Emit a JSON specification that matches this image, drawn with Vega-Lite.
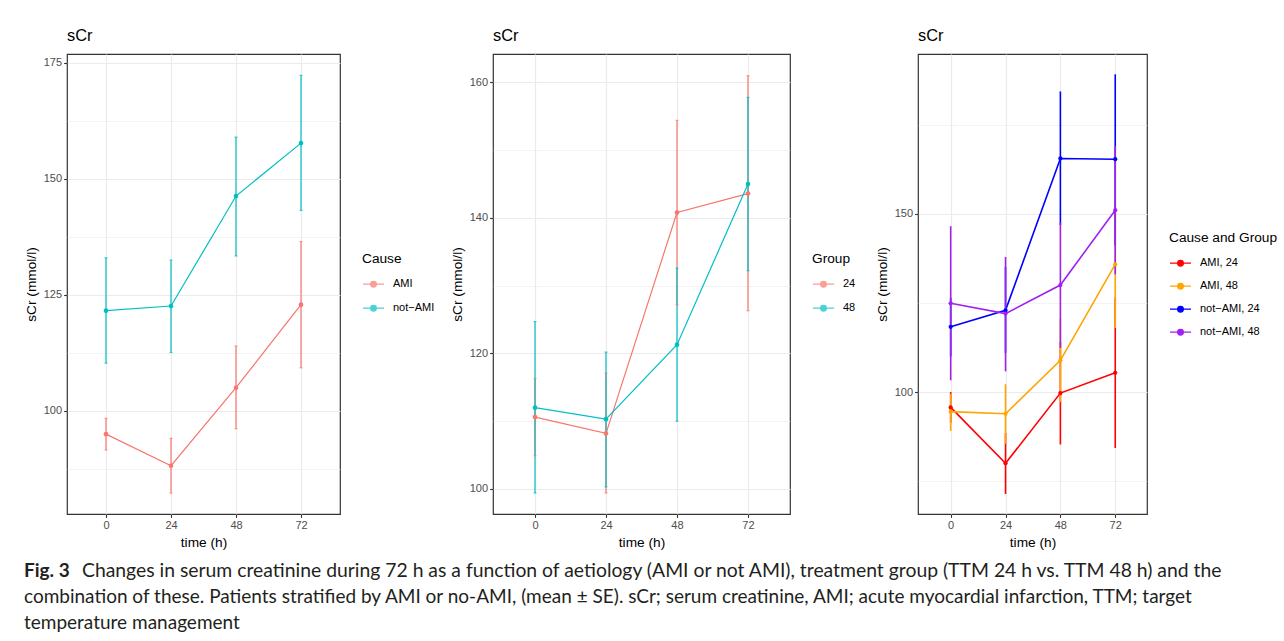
{
  "$schema": "https://vega.github.io/schema/vega-lite/v6.json",
  "background": "white",
  "padding": {"left": 23, "top": 27, "right": 0, "bottom": 0},
  "config": {
    "font": "Liberation Sans",
    "view": {"stroke": "#333333", "strokeWidth": 1.2},
    "axis": {
      "domain": false, "grid": true, "gridColor": "#EBEBEB",
      "tickColor": "#333333", "tickSize": 3.4, "tickWidth": 1.1,
      "labelColor": "#4D4D4D", "labelFontSize": 11, "labelPadding": 2, "labelFont": "Liberation Sans",
      "titleFontSize": 13.7, "titleFontWeight": "normal", "titleColor": "black", "titlePadding": 5, "titleFont": "Liberation Sans"
    },
    "legend": {
      "orient": "none",
      "titleFontSize": 13.7, "titleFontWeight": "normal", "titleColor": "black", "titleFont": "Liberation Sans",
      "labelFontSize": 11, "labelColor": "black", "labelFont": "Liberation Sans",
      "symbolSize": 441, "symbolStrokeWidth": 1.3,
      "symbolType": "M-1,0H1M-0.27,0A0.27,0.27 0 1,0 0.27,0A0.27,0.27 0 1,0 -0.27,0Z",
      "rowPadding": 7, "titlePadding": 7, "labelOffset": 8
    },
    "title": {"fontSize": 16.4, "fontWeight": "normal", "anchor": "start", "frame": "group", "color": "black", "offset": 10, "font": "Liberation Sans"}
  },
  "spacing": 8,
  "resolve": {"scale": {"color": "independent", "xOffset": "independent"}, "legend": {"color": "independent"}},
  "vconcat": [
    {
      "bounds": "flush",
      "spacing": 153,
      "resolve": {"scale": {"color": "independent", "xOffset": "independent"}, "legend": {"color": "independent"}},
      "hconcat": [
        {
          "width": 273, "height": 460,
          "title": "sCr",
          "data": {"values": [
            {"cause": "AMI", "time": 0, "mean": 95.0, "lo": 91.6, "hi": 98.4},
            {"cause": "AMI", "time": 24, "mean": 88.2, "lo": 82.3, "hi": 94.1},
            {"cause": "AMI", "time": 48, "mean": 105.0, "lo": 96.2, "hi": 114.0},
            {"cause": "AMI", "time": 72, "mean": 122.9, "lo": 109.3, "hi": 136.5},
            {"cause": "not−AMI", "time": 0, "mean": 121.6, "lo": 110.3, "hi": 133.0},
            {"cause": "not−AMI", "time": 24, "mean": 122.6, "lo": 112.6, "hi": 132.5},
            {"cause": "not−AMI", "time": 48, "mean": 146.3, "lo": 133.4, "hi": 159.0},
            {"cause": "not−AMI", "time": 72, "mean": 157.7, "lo": 143.2, "hi": 172.3}
          ]},
          "encoding": {
            "x": {"field": "time", "type": "quantitative", "title": "time (h)",
                  "scale": {"domain": [-14.4, 86.4], "nice": false, "zero": false},
                  "axis": {"values": [0, 24, 48, 72], "gridWidth": 1.2}},
            "xOffset": {"field": "cause", "type": "nominal", "scale": {"range": [-2.7, 2.7]}},
            "color": {"field": "cause", "type": "nominal", "title": "Cause",
                      "scale": {"domain": ["AMI", "not−AMI"], "range": ["#F8766D", "#00BFC4"]},
                      "legend": {"legendX": 295, "legendY": 198}}
          },
          "layer": [
            {"mark": {"type": "line", "strokeWidth": 1.2},
             "encoding": {"y": {"field": "mean", "type": "quantitative", "title": "sCr (mmol/l)",
               "scale": {"domain": [77.8, 176.9], "nice": false, "zero": false},
               "axis": {"values": [87.5, 100, 112.5, 125, 137.5, 150, 162.5, 175],
                        "labelExpr": "datum.value % 25 === 0 ? datum.label : ''",
                        "tickOpacity": {"condition": {"test": "datum.value % 25 === 0", "value": 1}, "value": 0},
                        "gridWidth": {"condition": {"test": "datum.value % 25 === 0", "value": 1.2}, "value": 0.6}}}}},
            {"mark": {"type": "rule", "strokeWidth": 1.2},
             "encoding": {"y": {"field": "lo", "type": "quantitative", "title": "sCr (mmol/l)"}, "y2": {"field": "hi"}}},
            {"mark": {"type": "tick", "orient": "horizontal", "size": 3, "thickness": 1.2},
             "encoding": {"y": {"field": "lo", "type": "quantitative", "title": "sCr (mmol/l)"}}},
            {"mark": {"type": "tick", "orient": "horizontal", "size": 3, "thickness": 1.2},
             "encoding": {"y": {"field": "hi", "type": "quantitative", "title": "sCr (mmol/l)"}}},
            {"mark": {"type": "point", "filled": true, "opacity": 1, "size": 22},
             "encoding": {"y": {"field": "mean", "type": "quantitative", "title": "sCr (mmol/l)"}}}
          ]
        },
        {
          "bounds": "flush",
          "spacing": 128,
          "resolve": {"scale": {"color": "independent", "xOffset": "independent"}, "legend": {"color": "independent"}},
          "hconcat": [
            {
              "width": 297, "height": 460,
              "title": "sCr",
              "data": {"values": [
                {"group": "24", "time": 0, "mean": 110.6, "lo": 104.9, "hi": 116.3},
                {"group": "24", "time": 24, "mean": 108.2, "lo": 99.4, "hi": 117.1},
                {"group": "24", "time": 48, "mean": 140.8, "lo": 127.2, "hi": 154.4},
                {"group": "24", "time": 72, "mean": 143.6, "lo": 126.3, "hi": 161.0},
                {"group": "48", "time": 0, "mean": 112.0, "lo": 99.4, "hi": 124.7},
                {"group": "48", "time": 24, "mean": 110.3, "lo": 100.3, "hi": 120.2},
                {"group": "48", "time": 48, "mean": 121.3, "lo": 110.0, "hi": 132.6},
                {"group": "48", "time": 72, "mean": 145.0, "lo": 132.2, "hi": 157.8}
              ]},
              "encoding": {
                "x": {"field": "time", "type": "quantitative", "title": "time (h)",
                      "scale": {"domain": [-14.2, 86.2], "nice": false, "zero": false},
                      "axis": {"values": [0, 24, 48, 72], "gridWidth": 1.2}},
                "xOffset": {"field": "group", "type": "nominal", "scale": {"range": [-3, 3]}},
                "color": {"field": "group", "type": "nominal", "title": "Group",
                          "scale": {"domain": ["24", "48"], "range": ["#F8766D", "#00BFC4"]},
                          "legend": {"legendX": 319, "legendY": 198}}
              },
              "layer": [
                {"mark": {"type": "line", "strokeWidth": 1.2},
                 "encoding": {"y": {"field": "mean", "type": "quantitative", "title": "sCr (mmol/l)",
                   "scale": {"domain": [96.3, 164.2], "nice": false, "zero": false},
                   "axis": {"values": [100, 110, 120, 130, 140, 150, 160],
                            "labelExpr": "datum.value % 20 === 0 ? datum.label : ''",
                            "tickOpacity": {"condition": {"test": "datum.value % 20 === 0", "value": 1}, "value": 0},
                            "gridWidth": {"condition": {"test": "datum.value % 20 === 0", "value": 1.2}, "value": 0.6}}}}},
                {"mark": {"type": "rule", "strokeWidth": 1.2},
                 "encoding": {"y": {"field": "lo", "type": "quantitative", "title": "sCr (mmol/l)"}, "y2": {"field": "hi"}}},
                {"mark": {"type": "tick", "orient": "horizontal", "size": 3, "thickness": 1.2},
                 "encoding": {"y": {"field": "lo", "type": "quantitative", "title": "sCr (mmol/l)"}}},
                {"mark": {"type": "tick", "orient": "horizontal", "size": 3, "thickness": 1.2},
                 "encoding": {"y": {"field": "hi", "type": "quantitative", "title": "sCr (mmol/l)"}}},
                {"mark": {"type": "point", "filled": true, "opacity": 1, "size": 22},
                 "encoding": {"y": {"field": "mean", "type": "quantitative", "title": "sCr (mmol/l)"}}}
              ]
            },
            {
              "width": 229, "height": 460,
              "title": "sCr",
              "data": {"values": [
                {"cg": "AMI, 24", "time": 0, "mean": 95.7, "lo": 91.4, "hi": 100.0},
                {"cg": "AMI, 24", "time": 24, "mean": 80.0, "lo": 71.4, "hi": 88.5},
                {"cg": "AMI, 24", "time": 48, "mean": 99.7, "lo": 85.3, "hi": 114.0},
                {"cg": "AMI, 24", "time": 72, "mean": 105.4, "lo": 84.3, "hi": 126.5},
                {"cg": "AMI, 48", "time": 0, "mean": 94.5, "lo": 89.1, "hi": 99.5},
                {"cg": "AMI, 48", "time": 24, "mean": 93.9, "lo": 85.5, "hi": 102.2},
                {"cg": "AMI, 48", "time": 48, "mean": 108.9, "lo": 97.2, "hi": 120.6},
                {"cg": "AMI, 48", "time": 72, "mean": 135.8, "lo": 118.0, "hi": 153.3},
                {"cg": "not−AMI, 24", "time": 0, "mean": 118.3, "lo": 110.0, "hi": 126.4},
                {"cg": "not−AMI, 24", "time": 24, "mean": 122.9, "lo": 111.0, "hi": 135.1},
                {"cg": "not−AMI, 24", "time": 48, "mean": 165.5, "lo": 146.8, "hi": 184.3},
                {"cg": "not−AMI, 24", "time": 72, "mean": 165.3, "lo": 141.2, "hi": 189.1},
                {"cg": "not−AMI, 48", "time": 0, "mean": 124.9, "lo": 103.3, "hi": 146.5},
                {"cg": "not−AMI, 48", "time": 24, "mean": 122.0, "lo": 105.8, "hi": 137.9},
                {"cg": "not−AMI, 48", "time": 48, "mean": 130.0, "lo": 112.4, "hi": 147.5},
                {"cg": "not−AMI, 48", "time": 72, "mean": 151.0, "lo": 133.0, "hi": 169.0}
              ]},
              "encoding": {
                "x": {"field": "time", "type": "quantitative", "title": "time (h)",
                      "scale": {"domain": [-14.3, 85.9], "nice": false, "zero": false},
                      "axis": {"values": [0, 24, 48, 72], "gridWidth": 1.2}},
                "xOffset": {"field": "cg", "type": "nominal", "scale": {"range": [-2.2, 2.2]}},
                "color": {"field": "cg", "type": "nominal", "title": "Cause and Group",
                          "scale": {"domain": ["AMI, 24", "AMI, 48", "not−AMI, 24", "not−AMI, 48"],
                                    "range": ["#FF0000", "#FFA500", "#0000FF", "#A020F0"]},
                          "legend": {"legendX": 251, "legendY": 177, "rowPadding": 6}}
              },
              "layer": [
                {"mark": {"type": "line", "strokeWidth": 1.6},
                 "encoding": {"y": {"field": "mean", "type": "quantitative", "title": "sCr (mmol/l)",
                   "scale": {"domain": [65.8, 194.8], "nice": false, "zero": false},
                   "axis": {"values": [75, 100, 125, 150, 175],
                            "labelExpr": "datum.value % 50 === 0 ? datum.label : ''",
                            "tickOpacity": {"condition": {"test": "datum.value % 50 === 0", "value": 1}, "value": 0},
                            "gridWidth": {"condition": {"test": "datum.value % 50 === 0", "value": 1.2}, "value": 0.6}}}}},
                {"mark": {"type": "rule", "strokeWidth": 1.6},
                 "encoding": {"y": {"field": "lo", "type": "quantitative", "title": "sCr (mmol/l)"}, "y2": {"field": "hi"}}},
                {"mark": {"type": "point", "filled": true, "opacity": 1, "size": 18},
                 "encoding": {"y": {"field": "mean", "type": "quantitative", "title": "sCr (mmol/l)"}}}
              ]
            }
          ]
        }
      ]
    },
    {
      "width": 1240, "height": 78,
      "view": {"stroke": null},
      "data": {"values": [
        {"line": 1, "part": "fig", "text": "Fig. 3"},
        {"line": 1, "part": "first", "text": "Changes in serum creatinine during 72 h as a function of aetiology (AMI or not AMI), treatment group (TTM 24 h vs. TTM 48 h) and the"},
        {"line": 2, "part": "rest", "text": "combination of these. Patients stratified by AMI or no-AMI, (mean ± SE). sCr; serum creatinine, AMI; acute myocardial infarction, TTM; target"},
        {"line": 3, "part": "rest", "text": "temperature management"}
      ]},
      "encoding": {
        "y": {"field": "line", "type": "ordinal", "axis": null},
        "x": {"datum": 0, "type": "quantitative", "scale": {"domain": [0, 1]}, "axis": null},
        "text": {"field": "text"}
      },
      "layer": [
        {"transform": [{"filter": "datum.part === 'fig'"}],
         "mark": {"type": "text", "align": "left", "baseline": "middle", "font": "Lato", "fontSize": 19, "fontWeight": "bold", "color": "#231F20", "dx": -43}},
        {"transform": [{"filter": "datum.part === 'first'"}],
         "mark": {"type": "text", "align": "left", "baseline": "middle", "font": "Lato", "fontSize": 19.35, "color": "#231F20", "dx": 15}},
        {"transform": [{"filter": "datum.part === 'rest'"}],
         "mark": {"type": "text", "align": "left", "baseline": "middle", "font": "Lato", "fontSize": 19, "color": "#231F20", "dx": -43}}
      ]
    }
  ]
}
